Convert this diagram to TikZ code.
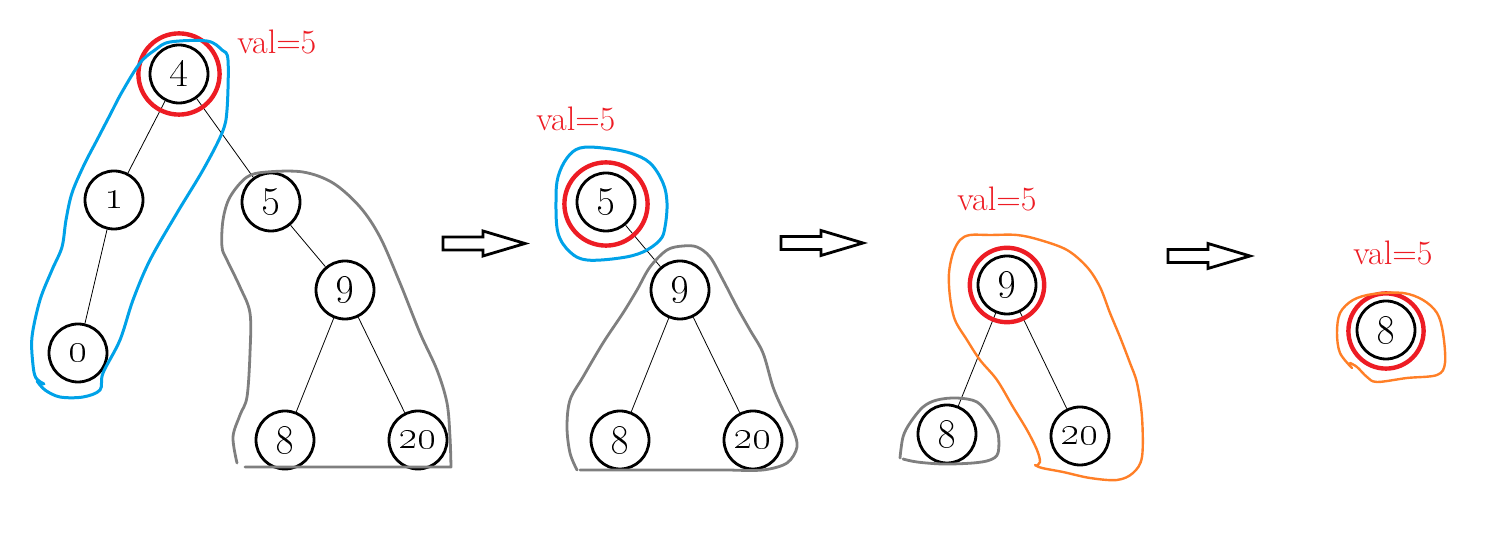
\documentclass[tikz,border=0pt]{standalone}
\usepackage{tikz}
\definecolor{pred}{HTML}{ED1C24}
\definecolor{pblue}{HTML}{00A2E8}
\definecolor{pgray}{HTML}{7F7F7F}
\definecolor{porange}{HTML}{FF7F27}
\tikzset{
  tnode/.style={circle, draw=black, line width=1.4pt, minimum size=29pt, inner sep=0pt,
    font=\fontsize{21}{25}\selectfont},
  edge/.style={draw=black, line width=0.4pt},
  ring/.style={draw=pred, line width=2.2pt},
  vallabel/.style={anchor=base west, text=pred, inner sep=0pt, font=\fontsize{17}{20}\selectfont},
  blueline/.style={draw=pblue, line width=1.5pt, line cap=round, line join=round},
  grayline/.style={draw=pgray, line width=1.4pt, line cap=round, line join=round},
  orangeline/.style={draw=porange, line width=1.2pt, line cap=round, line join=round},
  blockarrow/.style={draw=black, line width=1.4pt, line join=miter},
  pics/bigarrow/.style={code={
    \draw[blockarrow] (0,-6.5) -- (40,-6.5) -- (40,-12.5) -- (82,0) -- (40,12.5) -- (40,6.5) -- (0,6.5) -- cycle;
  }}
}
\begin{document}
\begin{tikzpicture}[x=0.5pt,y=-0.5pt]
\useasboundingbox (0,0) rectangle (1500,560);

% ---------- tree 1 ----------
\node[tnode] (a4) at (179,74) {\oldstylenums{4}};
\node[tnode] (a1) at (114,200) {\oldstylenums{1}};
\node[tnode] (a0) at (78,353) {\oldstylenums{0}};
\node[tnode] (a5) at (271,202) {\oldstylenums{5}};
\node[tnode] (a9) at (345,290) {\oldstylenums{9}};
\node[tnode] (a8) at (285,440) {\oldstylenums{8}};
\node[tnode] (a20) at (418,440) {\oldstylenums{20}};
\draw[edge] (a4) -- (a1);
\draw[edge] (a1) -- (a0);
\draw[edge] (a4) -- (a5);
\draw[edge] (a5) -- (a9);
\draw[edge] (a9) -- (a8);
\draw[edge] (a9) -- (a20);
\draw[ring] (a4.center) circle[radius=20.3pt];
\node[vallabel] (v1) at (237,54) {val=5};
\draw[blueline] plot[smooth, tension=0.55] coordinates {
  (44,384) (36,378) (33,365) (32,337) (40,300) (52,270) (62,247) (66,220) (72,193)
  (84,165) (97,140) (110,115) (122,92) (140,63) (155,50) (170,42) (207,41) (222,50)
  (228,60) (227,110) (222,133) (203,170) (177,213) (150,260) (133,300) (120,340)
  (103,373) (100,390) (83,397) (60,397) (45,390) (37,381)};
\draw[grayline] plot[smooth, tension=0.55] coordinates {
  (237,463) (233,437) (240,415) (247,397) (250,353) (250,313) (240,287) (227,260)
  (222,247) (223,220) (230,197) (247,177) (267,172) (303,172) (333,183) (360,207)
  (380,237) (400,283) (420,333) (437,370) (447,403) (450,437) (451,467)}
  -- (245,467);

% ---------- arrows ----------
\pic at (443,243.5) {bigarrow};
\pic at (781,243) {bigarrow};
\pic at (1168,256) {bigarrow};

% ---------- tree 2 ----------
\node[tnode] (b5) at (606,202) {\oldstylenums{5}};
\node[tnode] (b9) at (680,290) {\oldstylenums{9}};
\node[tnode] (b8) at (620,440) {\oldstylenums{8}};
\node[tnode] (b20) at (753,440) {\oldstylenums{20}};
\draw[edge] (b5) -- (b9);
\draw[edge] (b9) -- (b8);
\draw[edge] (b9) -- (b20);
\draw[ring] (606,204) circle[radius=20.8pt];
\node[vallabel] (v2) at (536,131) {val=5};
\draw[blueline] plot[smooth cycle, tension=0.6] coordinates {
  (558,233) (556,200) (558,177) (567,158) (580,148) (603,148) (630,153) (650,163)
  (663,183) (667,203) (665,227) (660,240) (643,252) (620,258) (587,260) (570,252)};
\draw[grayline] plot[smooth, tension=0.55] coordinates {
  (577,470) (570,453) (567,427) (570,400) (583,377) (603,343) (623,313) (637,290)
  (650,267) (667,250) (683,246) (697,247) (710,257) (723,280) (737,307) (750,330)
  (763,353) (773,387) (783,410) (793,430) (797,447) (787,463) (763,470) (730,470)}
  -- (580,470);

% ---------- tree 3 ----------
\node[tnode] (c9) at (1007,285) {\oldstylenums{9}};
\node[tnode] (c8) at (947,434) {\oldstylenums{8}};
\node[tnode] (c20) at (1080,436) {\oldstylenums{20}};
\draw[edge] (c9) -- (c8);
\draw[edge] (c9) -- (c20);
\draw[ring] (c9.center) circle[radius=18.6pt];
\node[vallabel] (v3) at (957,211) {val=5};
\draw[orangeline] plot[smooth, tension=0.55] coordinates {
  (1035,465) (1042,468) (1063,472) (1090,478) (1117,480) (1133,473) (1142,457)
  (1142,417) (1137,383) (1130,363) (1120,337) (1110,313) (1100,287) (1087,267)
  (1067,250) (1040,240) (1017,235) (990,235) (970,235) (960,240) (953,253) (949,273)
  (950,297) (955,320) (967,340) (980,360) (997,380) (1013,407) (1027,430) (1037,450)
  (1040,462) (1036,466)};
\draw[grayline] plot[smooth, tension=0.55] coordinates {
  (900,458) (903,437) (910,423) (923,407) (937,400) (957,398) (977,402) (990,417)
  (998,433) (998,453) (990,460) (973,463) (943,464) (917,462) (903,459)};

% ---------- tree 4 ----------
\node[tnode] (d8) at (1386,330) {\oldstylenums{8}};
\draw[ring] (1386,331) circle[radius=18.8pt];
\node[vallabel] (v4) at (1353,265) {val=5};
\draw[orangeline] plot[smooth, tension=0.55] coordinates {
  (1352,368) (1340,353) (1337,333) (1340,313) (1353,300) (1373,294) (1403,293)
  (1423,300) (1437,313) (1443,333) (1445,363) (1437,375) (1407,378) (1377,382)
  (1367,377) (1357,367) (1350,363)};
\end{tikzpicture}
\end{document}
